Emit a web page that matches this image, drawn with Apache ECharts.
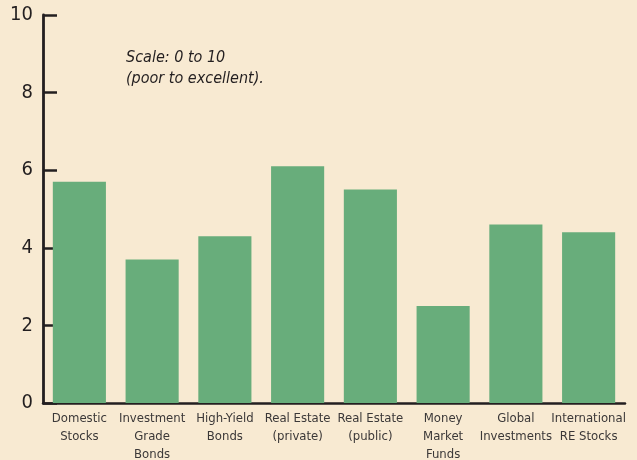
<!DOCTYPE html>
<html>
<head>
<meta charset="utf-8">
<script src="https://cdn.jsdelivr.net/npm/echarts@6/dist/echarts.min.js"></script>
<style>
  html, body { margin: 0; padding: 0; background: #f8ead2; }
  #chart { width: 637px; height: 460px; }
</style>
</head>
<body>
<div id="chart"></div>
<script>
// categories and ratings (0 to 10)
const categories = [
  "Domestic\nStocks",
  "Investment\nGrade\nBonds",
  "High-Yield\nBonds",
  "Real Estate\n(private)",
  "Real Estate\n(public)",
  "Money\nMarket\nFunds",
  "Global\nInvestments",
  "International\nRE Stocks"
];
const ratings = [5.7, 3.7, 4.3, 6.1, 5.5, 2.5, 4.6, 4.4];
const yTicks = [0, 2, 4, 6, 8, 10];
const note = "Scale: 0 to 10\n(poor to excellent).";

const narrow = "'DejaVu Sans Condensed', 'Liberation Sans', sans-serif";
const ink = "#231f20";

const chart = echarts.init(document.getElementById("chart"));
const option = {
  backgroundColor: "#f8ead2",
  animation: false,
  title: {
    text: note,
    left: 126,
    top: 47,
    padding: 0,
    textStyle: {
      fontFamily: narrow,
      fontStyle: "italic",
      fontWeight: "normal",
      fontSize: 16,
      lineHeight: 21,
      color: ink,
    },
  },
  grid: { left: 43, right: 12, top: 15, bottom: 57, outerBoundsMode: "none" },
  xAxis: {
    type: "category",
    data: categories,
    axisTick: { show: false },
    axisLine: { lineStyle: { color: ink, width: 2.5 } },
    axisLabel: {
      color: "#3b3838",
      fontFamily: narrow,
      fontSize: 13,
      lineHeight: 18,
      margin: 7,
      interval: 0,
    },
  },
  yAxis: {
    type: "value",
    min: yTicks[0],
    max: yTicks[yTicks.length - 1],
    interval: 2,
    splitLine: { show: false },
    axisLine: { show: true, lineStyle: { color: ink, width: 2.8 } },
    axisTick: { show: true, inside: true, length: 14, lineStyle: { color: ink, width: 2.5 } },
    axisLabel: { color: ink, fontFamily: narrow, fontSize: 20, margin: 10 },
  },
  series: [
    {
      type: "bar",
      data: ratings,
      barCategoryGap: "27%",
      itemStyle: { color: "#68ad7b" },
    },
  ],
};
chart.setOption(option);
</script>
</body>
</html>
